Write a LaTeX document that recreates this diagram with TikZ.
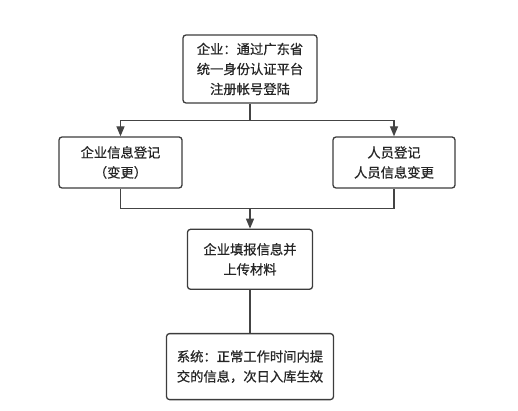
\documentclass[tikz,border=0pt]{standalone}
\usepackage{fontspec}
\setmainfont{Noto Sans CJK SC}[FakeBold=0.6]
\usetikzlibrary{positioning, arrows.meta, calc}
\definecolor{borderMain}{HTML}{3C3C3C}
\definecolor{lineMain}{HTML}{444444}
\definecolor{textMain}{HTML}{262626}
\tikzset{
  stepnode/.style={
    draw=borderMain, fill=white, rounded corners=3pt,
    line width=1.3pt, align=center, inner sep=0pt,
    font=\fontsize{13.3}{20}\selectfont, text=textMain,
  },
  conn/.style={
    line width=1.3pt, color=lineMain,
  },
  connarrow/.style={
    conn, -{Triangle[length=10pt, width=8pt]},
  },
}
\begin{document}
\begin{tikzpicture}[x=1pt, y=-1pt]

  % === canvas ===
  \useasboundingbox (0,0) rectangle (518,411);

  % === Registration ===
  \node[stepnode, minimum width=134pt, minimum height=68pt] (login) at (250,69)
    {企业：通过广东省\\统一身份认证平台\\注册帐号登陆};

  % === Two branches ===
  \node[stepnode, minimum width=123pt, minimum height=51pt] (company) at (120.5,162.5)
    {企业信息登记\\（变更）};
  \node[stepnode, minimum width=122pt, minimum height=51pt] (staff) at (394,162.5)
    {人员登记\\人员信息变更};

  % === Fill in ===
  \node[stepnode, minimum width=125pt, minimum height=60pt, below=40pt of company.south -| login.south, anchor=north]
    (upload) {企业填报信息并\\上传材料};

  % === Result ===
  \node[stepnode, minimum width=167pt, minimum height=66pt, below=43pt of upload] (result)
    {系统：正常工作时间内提\\交的信息，次日入库生效};

  % === Arrows ===
  \draw[conn] (login.south) -- ++(0,17) coordinate (split);
  \draw[connarrow] (split) -| (company.north);
  \draw[connarrow] (split) -| (staff.north);

  \coordinate (merge) at ($(upload.north)+(0,-20)$);
  \draw[conn] (company.south) |- (merge) -| (staff.south);
  \draw[connarrow] (merge) -- (upload.north);

  \draw[conn] (upload.south) -- (result.north);

\end{tikzpicture}
\end{document}
